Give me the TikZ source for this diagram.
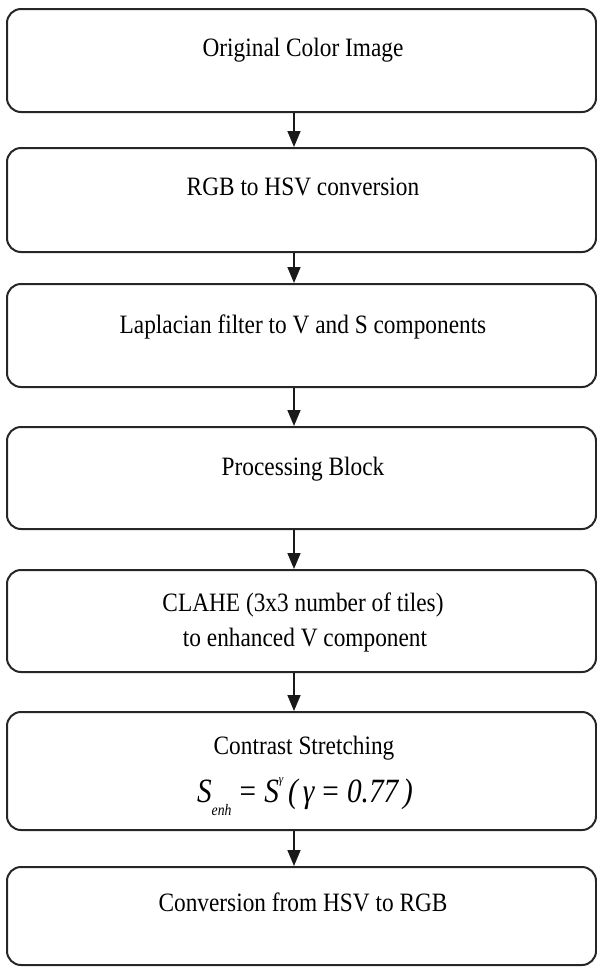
\documentclass[tikz,border=0pt]{standalone}
\usepackage{fontspec}
\setmainfont{Liberation Serif}
\usetikzlibrary{arrows.meta}

% slightly condensed serif lettering
\newcommand{\narrowtext}[1]{\scalebox{0.88}[1]{#1}}

\tikzset{
  stagebox/.style={draw=black!85, line width=2pt, rounded corners=14pt,
    minimum width=589pt, inner sep=0pt},
  label/.style={font=\fontsize{26.5}{30}\selectfont, anchor=base, inner sep=0pt},
  formula/.style={font=\fontsize{34}{38}\selectfont, anchor=base, inner sep=0pt},
  flow/.style={draw=black!90, line width=1.6pt,
    -{Triangle[length=16pt,width=13pt]}}
}

\begin{document}
\begin{tikzpicture}[x=1pt,y=-1pt]
  \useasboundingbox (0,0) rectangle (597,967);

  % stage boxes
  \node[stagebox, minimum height=103pt] (b1) at (301.5,60.5)  {};
  \node[stagebox, minimum height=104pt] (b2) at (301.5,200)   {};
  \node[stagebox, minimum height=103pt] (b3) at (301.5,335.5) {};
  \node[stagebox, minimum height=102pt] (b4) at (301.5,478)   {};
  \node[stagebox, minimum height=102pt] (b5) at (301.5,621)   {};
  \node[stagebox, minimum height=118pt] (b6) at (301.5,771)   {};
  \node[stagebox, minimum height=98pt]  (b7) at (301.5,916)   {};

  % stage captions
  \node[label] (t1) at (303,56)  {\narrowtext{Original Color Image}};
  \node[label] (t2) at (303,195) {\narrowtext{RGB to HSV conversion}};
  \node[label] (t3) at (303,333) {\narrowtext{Laplacian filter to V and S components}};
  \node[label] (t4) at (303,475) {\narrowtext{Processing Block}};
  \node[label] (t5a) at (303,611) {\narrowtext{CLAHE (3x3 number of tiles)}};
  \node[label] (t5b) at (305,646) {\narrowtext{to enhanced V component}};
  \node[label] (t6a) at (304,754) {\narrowtext{Contrast Stretching}};
  \node[formula] (t6b) at (305,802) {\scalebox{0.86}[1]{\itshape S\raisebox{-0.4em}{\fontsize{16}{16}\selectfont enh}\;\upshape=\;\itshape S\raisebox{0.55em}{\fontsize{13}{13}\selectfont γ}\,(\,γ\;\upshape=\;\itshape 0.77\,)}};
  \node[label] (t7) at (303,911) {\narrowtext{Conversion from HSV to RGB}};

  % flow arrows
  \foreach \a/\b in {b1/b2,b2/b3,b3/b4,b4/b5,b5/b6,b6/b7}
    \draw[flow] ([xshift=-7.5pt]\a.south) -- ([xshift=-7.5pt]\b.north);
\end{tikzpicture}
\end{document}
